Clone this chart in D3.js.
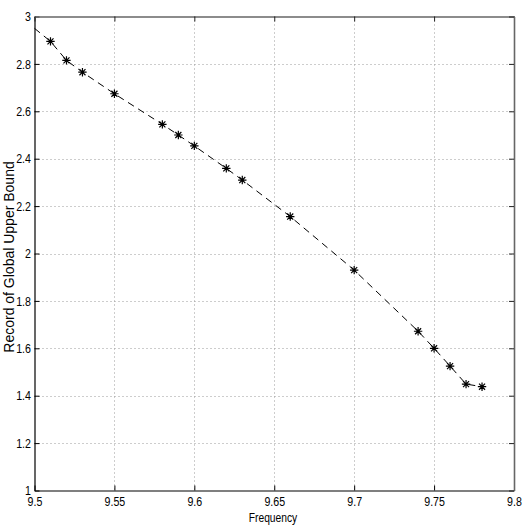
<!DOCTYPE html>
<html><head><meta charset="utf-8">
<script src="https://cdn.jsdelivr.net/npm/d3@7"></script>
<style>
body{margin:0;background:#fff;}
text{font-family:"Liberation Sans",Arial,Helvetica,sans-serif;}
</style></head>
<body><svg id="c" width="526" height="526"></svg>
<script>
// Data
const frequency = [9.51, 9.52, 9.53, 9.55, 9.58, 9.59, 9.60, 9.62, 9.63, 9.66, 9.70, 9.74, 9.75, 9.76, 9.77, 9.78];
const upperBound = [2.895, 2.815, 2.765, 2.674, 2.545, 2.500, 2.454, 2.359, 2.310, 2.156, 1.930, 1.672, 1.600, 1.525, 1.449, 1.438];
const lineStart = {x: 9.50, y: 2.950}; // line continues to left edge, no marker
const xTicks = [9.5, 9.55, 9.6, 9.65, 9.7, 9.75, 9.8];
const yTicks = [1, 1.2, 1.4, 1.6, 1.8, 2, 2.2, 2.4, 2.6, 2.8, 3];
const xLabel = "Frequency";
const yLabel = "Record of Global Upper Bound";

const L = 34.5, R = 514, T = 16.5, B = 490.5;
const SX = 0.82; // narrow face emulation
const svg = d3.select("#c");
const x = d3.scaleLinear().domain([9.5, 9.8]).range([L, R]);
const y = d3.scaleLinear().domain([1, 3]).range([B, T]);
const fmt = d => String(+d.toFixed(2));

// grid
const grid = svg.append("g");
grid.selectAll("line.gx").data(xTicks.slice(1, -1)).join("line")
  .attr("x1", d => Math.round(x(d)) + 0.5).attr("x2", d => Math.round(x(d)) + 0.5)
  .attr("y1", T).attr("y2", B)
  .attr("stroke", "#9a9a9a").attr("stroke-width", 1).attr("stroke-dasharray", "1,3");
grid.selectAll("line.gy").data(yTicks.slice(1, -1)).join("line")
  .attr("y1", d => Math.round(y(d)) + 0.5).attr("y2", d => Math.round(y(d)) + 0.5)
  .attr("x1", L).attr("x2", R)
  .attr("stroke", "#9a9a9a").attr("stroke-width", 1).attr("stroke-dasharray", "1,3");

// axes (ticks inward)
const tk = 5;
const ax = svg.append("g").attr("transform", `translate(0,${B})`)
  .call(d3.axisBottom(x).tickValues(xTicks).tickFormat(fmt).tickSize(-tk).tickPadding(6).tickSizeOuter(0));
const ay = svg.append("g").attr("transform", `translate(${L},0)`)
  .call(d3.axisLeft(y).tickValues(yTicks).tickFormat(fmt).tickSize(-tk).tickPadding(4).tickSizeOuter(0));
const at = svg.append("g").attr("transform", `translate(0,${T})`)
  .call(d3.axisTop(x).tickValues(xTicks).tickFormat("").tickSize(-tk).tickSizeOuter(0));
const ar = svg.append("g").attr("transform", `translate(${R},0)`)
  .call(d3.axisRight(y).tickValues(yTicks).tickFormat("").tickSize(-tk).tickSizeOuter(0));
[ax, ay].forEach(g => { g.select(".domain").attr("stroke", "#000").attr("stroke-width", 1.2);
  g.selectAll(".tick line").attr("stroke", "#000");
  g.selectAll("text").attr("font-size", 13).attr("fill", "#000"); });
[at, ar].forEach(g => { g.select(".domain").attr("stroke", "#666").attr("stroke-width", 1.6);
  g.selectAll(".tick line").attr("stroke", "#222"); });
ax.selectAll("text").attr("transform", `scale(${SX},1)`);
ay.selectAll("text").attr("x", -3.5 / SX).attr("transform", `scale(${SX},1)`);

// line
const pts = [lineStart].concat(frequency.map((f, i) => ({x: f, y: upperBound[i]})));
svg.append("path").datum(pts)
  .attr("d", d3.line().x(d => x(d.x)).y(d => y(d.y)))
  .attr("fill", "none").attr("stroke", "#000").attr("stroke-width", 1)
  .attr("stroke-dasharray", "7,5");

// markers (asterisk: plus + cross)
const r = 4.2;
const k = r * 0.72;
const star = `M${-r},0L${r},0M0,${-r}L0,${r}M${-k},${-k}L${k},${k}M${-k},${k}L${k},${-k}`;
svg.append("g").selectAll("path").data(frequency).join("path")
  .attr("transform", (d, i) => `translate(${x(d)},${y(upperBound[i])})`)
  .attr("d", star).attr("stroke", "#000").attr("stroke-width", 1.2).attr("fill", "none");

// labels
svg.append("text").attr("transform", `translate(273,522) scale(0.79,1)`)
  .attr("text-anchor", "middle").attr("font-size", 13).text(xLabel);
svg.append("text").attr("transform", `translate(14,257) rotate(-90)`)
  .attr("text-anchor", "middle").attr("font-size", 14).text(yLabel);
</script></body></html>
